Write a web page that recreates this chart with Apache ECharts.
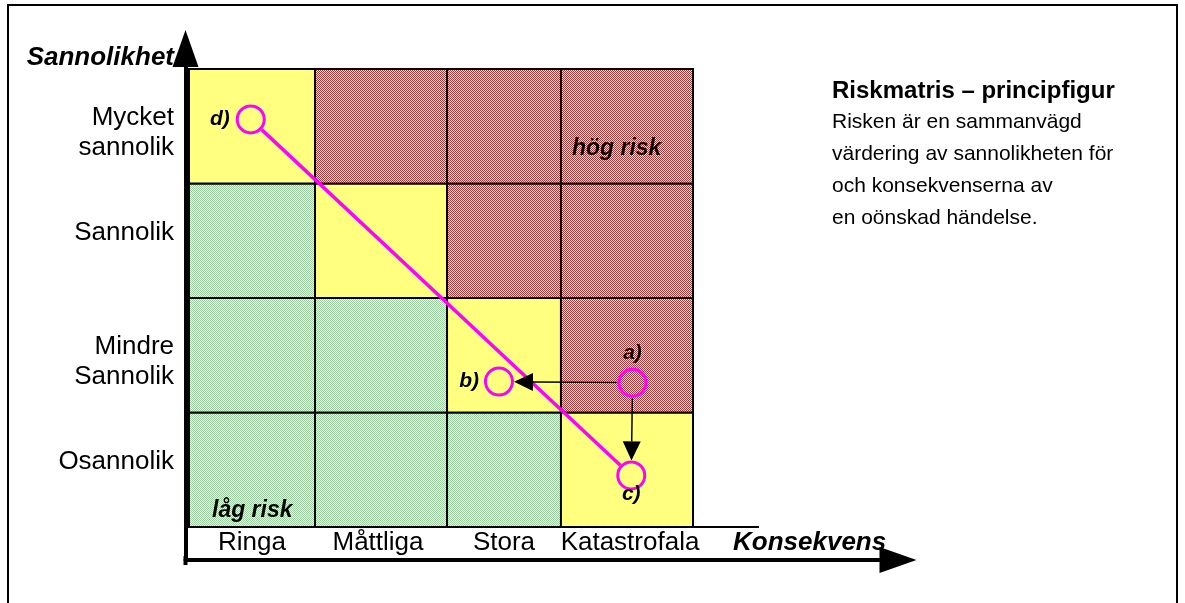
<!DOCTYPE html>
<html><head><meta charset="utf-8">
<script src="https://cdn.jsdelivr.net/npm/echarts@6/dist/echarts.min.js"></script>
<style>html,body{margin:0;padding:0;background:#fff}#c{width:1185px;height:603px}</style>
</head><body><div id="c"></div>
<script>
// ---------- data ----------
const consequences = ['Ringa', 'Måttliga', 'Stora', 'Katastrofala'];
const likelihoods = ['Osannolik', 'Mindre\nSannolik', 'Sannolik', 'Mycket\nsannolik']; // bottom -> top
const riskRows = [            // one row per likelihood (bottom -> top), one entry per consequence
  ['low', 'low', 'low', 'mid'],
  ['low', 'low', 'mid', 'high'],
  ['low', 'mid', 'high', 'high'],
  ['mid', 'high', 'high', 'high']
];
const zoneTexts = [{ row: 3, col: 3, text: 'hög risk' }, { row: 0, col: 0, text: 'låg risk' }];
const pointNames = ['a)', 'b)', 'c)', 'd)'];
const pointX = [3.52, 2.46, 3.51, 0.49];
const pointY = [1.26, 1.27, 0.45, 3.56];
const pathLinks = [['d)', 'c)']];
const moveArrows = [['a)', 'b)'], ['a)', 'c)']];
const titleText = 'Riskmatris – principfigur';
const bodyLines = ['Risken är en sammanvägd', 'värdering av sannolikheten för', 'och konsekvenserna av', 'en oönskad händelse.'];

// ---------- layout / style ----------
const FONT = '"Liberation Sans", Arial, sans-serif';
const COL_EDGES = [0, 1, 2.048, 2.952, 4];
const LEVELS = ['low', 'mid', 'high'];
const LEVEL_COLORS = { low: '#94d29a', mid: '#ffff78', high: '#c02c2c' };
const GRID = { left: 189, top: 69, width: 504, height: 458 };
const POINT_LABEL = {
  'a)': { position: 'top', distance: 4 },
  'b)': { position: 'left', distance: 5 },
  'c)': { position: 'bottom', distance: -7 },
  'd)': { position: 'left', distance: 6 }
};
const ZONE_TEXT_POS = { high: { dx: 11, fromTop: true, dy: 80 }, low: { dx: 23, fromTop: false, dy: -16 } };
const R = 15;

function checker(color) {
  const cv = document.createElement('canvas');
  cv.width = 2; cv.height = 2;
  const g = cv.getContext('2d');
  g.fillStyle = '#ffffff'; g.fillRect(0, 0, 2, 2);
  g.fillStyle = color; g.fillRect(0, 0, 1, 1); g.fillRect(1, 1, 1, 1);
  return cv;
}
const patterns = {};
LEVELS.forEach(l => { patterns[l] = { image: checker(LEVEL_COLORS[l]), repeat: 'repeat' }; });

const cellData = [];
riskRows.forEach((row, r) => row.forEach((lvl, c) => cellData.push([c, r, LEVELS.indexOf(lvl)])));
const pt = n => { const i = pointNames.indexOf(n); return [pointX[i], pointY[i]]; };

const chart = echarts.init(document.getElementById('c'), null, { renderer: 'canvas' });
chart.setOption({
  animation: false,
  backgroundColor: '#fff',
  title: {
    text: titleText, subtext: bodyLines.join('\n'),
    left: 832, top: 76, padding: 0, itemGap: 0,
    textStyle: { fontFamily: FONT, fontSize: 24, fontWeight: 'bold', color: '#000', lineHeight: 30 },
    subtextStyle: { fontFamily: FONT, fontSize: 21, color: '#000', lineHeight: 32 }
  },
  grid: [
    { left: GRID.left, top: GRID.top, width: GRID.width, height: GRID.height },
    { left: 185.5, top: 48.5, width: 712.5, height: 511.5 }
  ],
  xAxis: [
    {
      type: 'value', gridIndex: 0, min: 0, max: 4,
      axisLine: { show: false }, axisTick: { show: false }, splitLine: { show: false },
      axisLabel: {
        customValues: [0.5, 1.5, 2.5, 3.5],
        formatter: v => consequences[Math.floor(v)],
        fontFamily: FONT, fontSize: 26, color: '#000', margin: 1, lineHeight: 30
      },
      name: 'Konsekvens', nameLocation: 'end', nameGap: 40,
      nameTextStyle: { fontFamily: FONT, fontSize: 26, fontWeight: 'bold', fontStyle: 'italic', color: '#000',
        align: 'left', verticalAlign: 'top', lineHeight: 30, padding: [1, 0, 0, 0] }
    },
    {
      type: 'value', gridIndex: 1, min: 0, max: 1,
      axisLine: { show: true, onZero: false, lineStyle: { color: '#000', width: 4 },
        symbol: ['none', 'triangle'], symbolSize: [26, 37] },
      axisTick: { show: false }, axisLabel: { show: false }, splitLine: { show: false }
    }
  ],
  yAxis: [
    {
      type: 'value', gridIndex: 0, min: 0, max: 4,
      axisLine: { show: false }, axisTick: { show: false }, splitLine: { show: false },
      axisLabel: {
        customValues: [0.5, 1.5, 2.5, 3.5],
        margin: 15,
        formatter: v => {
          const parts = likelihoods[Math.floor(v)].split('\n');
          return parts.length === 1 ? '{l|' + parts[0] + '}\n{g1| }' : '{g2| }\n{l|' + parts[0] + '}\n{l|' + parts[1] + '}';
        },
        rich: {
          l: { fontFamily: FONT, fontSize: 26, lineHeight: 30, color: '#000' },
          g1: { fontSize: 1, lineHeight: 16 },
          g2: { fontSize: 1, lineHeight: 14 }
        }
      },
      name: 'Sannolikhet', nameLocation: 'end', nameGap: 11.5,
      nameTextStyle: { fontFamily: FONT, fontSize: 26, fontWeight: 'bold', fontStyle: 'italic', color: '#000',
        align: 'right', verticalAlign: 'middle', padding: [0, 15, 0, 0] }
    },
    {
      type: 'value', gridIndex: 1, min: 0, max: 1,
      axisLine: { show: true, onZero: false, lineStyle: { color: '#000', width: 4 },
        symbol: ['none', 'triangle'], symbolSize: [26, 37] },
      axisTick: { show: false }, axisLabel: { show: false }, splitLine: { show: false }
    }
  ],
  series: [
    {
      type: 'custom', xAxisIndex: 0, yAxisIndex: 0, z: 1, silent: true,
      encode: { x: 0, y: 1 },
      data: cellData,
      renderItem: (params, api) => {
        const c = api.value(0), r = api.value(1), lvl = LEVELS[api.value(2)];
        const p0 = api.coord([COL_EDGES[c], r + 1]);
        const p1 = api.coord([COL_EDGES[c + 1], r]);
        const children = [{
          type: 'rect',
          shape: { x: p0[0], y: p0[1], width: p1[0] - p0[0], height: p1[1] - p0[1] },
          style: { fill: patterns[lvl], stroke: '#000', lineWidth: 2 }
        }];
        zoneTexts.filter(z => z.row === r && z.col === c).forEach(z => {
          const pos = ZONE_TEXT_POS[lvl === 'high' ? 'high' : 'low'];
          children.push({
            type: 'text', z2: 10,
            x: p0[0] + pos.dx, y: pos.fromTop ? p0[1] + pos.dy : p1[1] + pos.dy,
            style: { text: z.text, font: 'italic bold 23px ' + FONT, fill: '#000', align: 'left', verticalAlign: 'middle' }
          });
        });
        return { type: 'group', children };
      }
    },
    {
      type: 'custom', xAxisIndex: 0, yAxisIndex: 0, z: 3, silent: true,
      encode: { x: [0, 2], y: [1, 3] },
      data: pathLinks.map(([a, b]) => pt(a).concat(pt(b))),
      renderItem: (params, api) => {
        const a = api.coord([api.value(0), api.value(1)]), b = api.coord([api.value(2), api.value(3)]);
        const dx = b[0] - a[0], dy = b[1] - a[1], L = Math.hypot(dx, dy), ux = dx / L, uy = dy / L;
        return { type: 'line', shape: { x1: a[0] + ux * R, y1: a[1] + uy * R, x2: b[0] - ux * R, y2: b[1] - uy * R },
          style: { stroke: '#ff00ff', lineWidth: 3.5 } };
      }
    },
    {
      type: 'custom', xAxisIndex: 0, yAxisIndex: 0, z: 4, silent: true,
      encode: { x: [0, 2], y: [1, 3] },
      data: moveArrows.map(([a, b]) => pt(a).concat(pt(b))),
      renderItem: (params, api) => {
        const a = api.coord([api.value(0), api.value(1)]), b = api.coord([api.value(2), api.value(3)]);
        const dx = b[0] - a[0], dy = b[1] - a[1], L = Math.hypot(dx, dy), ux = dx / L, uy = dy / L;
        const tip = [b[0] - ux * R, b[1] - uy * R];
        const HL = 19, HW = 9;
        const base = [tip[0] - ux * HL, tip[1] - uy * HL];
        return { type: 'group', children: [
          { type: 'line', shape: { x1: a[0] + ux * R, y1: a[1] + uy * R, x2: base[0], y2: base[1] }, style: { stroke: '#000', lineWidth: 1.5 } },
          { type: 'polygon', shape: { points: [tip, [base[0] - uy * HW, base[1] + ux * HW], [base[0] + uy * HW, base[1] - ux * HW]] }, style: { fill: '#000' } }
        ] };
      }
    },
    {
      type: 'scatter', xAxisIndex: 0, yAxisIndex: 0, z: 5, silent: true,
      symbol: 'circle', symbolSize: 27,
      itemStyle: { color: 'rgba(0,0,0,0)', borderColor: '#ff00ff', borderWidth: 3, opacity: 1 },
      label: { show: true, formatter: '{b}', fontFamily: FONT, fontSize: 21, fontWeight: 'bold', fontStyle: 'italic', color: '#000' },
      emphasis: { disabled: true },
      data: pointNames.map((n, i) => ({ name: n, value: [pointX[i], pointY[i]], label: POINT_LABEL[n] }))
    }
  ],
  graphic: [
    { type: 'rect', silent: true, shape: { x: 8, y: 5, width: 1169, height: 700 }, style: { fill: 'none', stroke: '#000', lineWidth: 2 } },
    { type: 'line', silent: true, shape: { x1: GRID.left + GRID.width, y1: GRID.top + GRID.height, x2: 759, y2: GRID.top + GRID.height }, style: { stroke: '#000', lineWidth: 2 } },
    { type: 'line', silent: true, shape: { x1: 185.5, y1: 556, x2: 185.5, y2: 565 }, style: { stroke: '#000', lineWidth: 4 } }
  ]
});
</script></body></html>
